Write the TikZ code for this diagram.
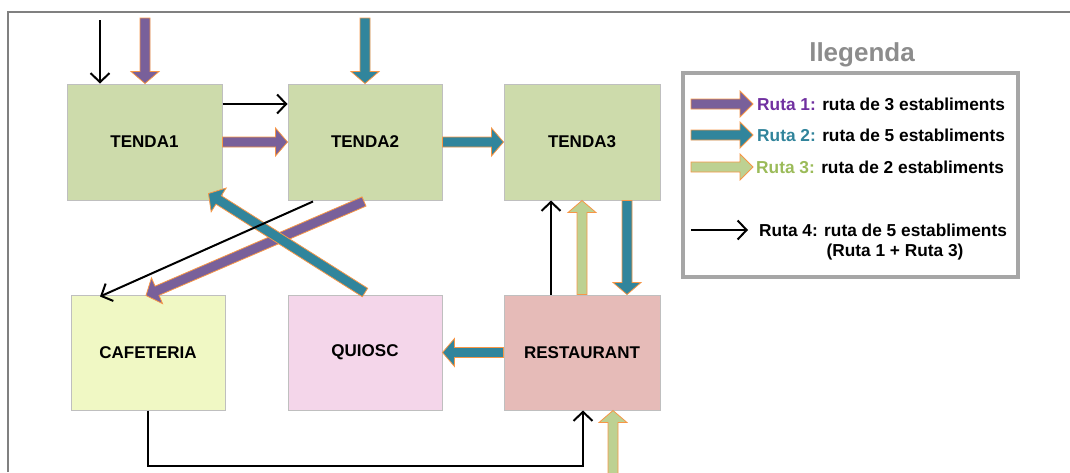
\documentclass[tikz,border=0pt]{standalone}
\usepackage{fontspec}
\setmainfont{Liberation Sans}
\usetikzlibrary{calc,arrows.meta}

\definecolor{shopfill}{HTML}{CDDBAB}
\definecolor{cafefill}{HTML}{F0F8C4}
\definecolor{kioskfill}{HTML}{F4D6EA}
\definecolor{restfill}{HTML}{E6BBB8}
\definecolor{boxline}{HTML}{BFBFBF}
\definecolor{framegray}{HTML}{808080}
\definecolor{leggray}{HTML}{A6A6A6}
\definecolor{titlegray}{HTML}{8C8C8C}
\definecolor{routeone}{HTML}{79609A}
\definecolor{routetwo}{HTML}{31859C}
\definecolor{routethree}{HTML}{BDD192}
\definecolor{arrowedge}{HTML}{F79646}
\definecolor{labelone}{HTML}{7030A0}
\definecolor{labeltwo}{HTML}{31849B}
\definecolor{labelthree}{HTML}{9BBB59}

% block arrow dimensions: half shaft width, half head width, head length
\newcommand{\bashaft}{5pt}
\newcommand{\bawing}{14pt}
\newcommand{\bahead}{12pt}

% block arrow from #2 to #3 (coordinate specs without parentheses), fill #1
\newcommand{\blockarrow}[3]{%
  \coordinate (bas) at (#2);
  \coordinate (bae) at (#3);
  \coordinate (bah) at ($(bae)!\bahead!(bas)$);
  \filldraw[fill=#1, draw=arrowedge, line width=0.8pt, line join=miter]
    ($(bas)!\bashaft!90:(bae)$) -- ($(bah)!\bashaft!90:(bae)$)
    -- ($(bah)!\bawing!90:(bae)$) -- (bae)
    -- ($(bah)!\bawing!-90:(bae)$) -- ($(bah)!\bashaft!-90:(bae)$)
    -- ($(bas)!\bashaft!-90:(bae)$) -- cycle;
}

\tikzset{
  place/.style={draw=boxline, line width=1pt, inner sep=0pt,
    minimum height=116pt, font=\bfseries\fontsize{17}{20}\selectfont},
  thinroute/.style={draw=black, line width=2pt,
    -{Straight Barb[length=9pt,width=19pt,line width=2pt]}},
  legtext/.style={anchor=west, inner sep=0pt,
    font=\bfseries\fontsize{17.3}{20}\selectfont},
}

\begin{document}
\begin{tikzpicture}[x=1pt,y=-1pt]
\useasboundingbox (0,0) rectangle (1070,472);

% outer frame (open to the right and bottom)
\draw[framegray, line width=1.4pt] (8,472) -- (8,12) -- (1070,12);

% establishments
\node[place, fill=shopfill, minimum width=155pt] (t1) at (144.5,142) {TENDA1};
\node[place, fill=shopfill, minimum width=154pt] (t2) at (365,142) {TENDA2};
\node[place, fill=shopfill, minimum width=156pt] (t3) at (582,142) {TENDA3};
\node[place, fill=cafefill, minimum width=154pt, minimum height=115pt] (caf) at (148,352.5) {CAFETERIA};
\node[place, fill=kioskfill, minimum width=154pt, minimum height=115pt] (kio) at (365,352.5) {QUIOSC};
\node[place, fill=restfill, minimum width=156pt, minimum height=115pt] (res) at (582,352.5) {RESTAURANT};

% entry points
\coordinate (in1) at (100,20);
\coordinate (in2) at (145,18);
\coordinate (in3) at (365,18);
\coordinate (in4) at (613,480);

% Ruta 1
\blockarrow{routeone}{in2}{in2 |- t1.north}
\blockarrow{routeone}{t1.east}{t2.west}
\blockarrow{routeone}{$(t2.south)+(-1,1)$}{$(caf.north)+(-2,1)$}

% Ruta 2
\blockarrow{routetwo}{in3}{t2.north}
\blockarrow{routetwo}{t2.east}{t3.west}
\blockarrow{routetwo}{$(t3.south)+(45,0)$}{$(res.north)+(45,0)$}
\blockarrow{routetwo}{res.west}{kio.east}
\blockarrow{routetwo}{$(kio.north)+(0,-2)$}{$(t1.south east)+(-14,-7)$}

% Ruta 3
\blockarrow{routethree}{in4}{in4 |- res.south}
\blockarrow{routethree}{res.north}{t3.south}

% Ruta 4
\draw[thinroute] (in1) -- (in1 |- t1.north);
\draw[thinroute] ($(t1.east)+(0,-38)$) -- ($(t2.west)+(0,-38)$);
\draw[thinroute] ($(t2.south)+(-52,1)$) -- ($(caf.north)+(-48,2)$);
\draw[thinroute] (caf.south) |- ($(res.south)+(1,55)$) -- ($(res.south)+(1,0)$);
\draw[thinroute] ($(res.north)+(-31,0)$) -- ($(t3.south)+(-31,0)$);

% legend
\node[font=\bfseries\fontsize{26}{30}\selectfont, text=titlegray] (legtitle) at (862,55) {llegenda};
\node[draw=leggray, line width=3.5pt, minimum width=335pt, minimum height=204pt,
  inner sep=0pt] (legbox) at (850.5,175) {};

\renewcommand{\bawing}{13pt}
\renewcommand{\bahead}{13pt}
\coordinate (la1) at (691,104);  \coordinate (lb1) at (753,104);
\coordinate (la2) at (691,135);  \coordinate (lb2) at (753,135);
\coordinate (la3) at (691,167);  \coordinate (lb3) at (753,167);
\coordinate (la4) at (691,230);  \coordinate (lb4) at (748,230);
\blockarrow{routeone}{la1}{lb1}
\blockarrow{routetwo}{la2}{lb2}
\blockarrow{routethree}{la3}{lb3}
\draw[thinroute] (la4) -- (lb4);

\node[legtext] (lt1) at (757,104) {\textcolor{labelone}{Ruta 1:} ruta de 3 establiments};
\node[legtext] (lt2) at (757,135) {\textcolor{labeltwo}{Ruta 2:} ruta de 5 establiments};
\node[legtext] (lt3) at (756,167) {\textcolor{labelthree}{Ruta 3:} ruta de 2 establiments};
\node[legtext] (lt4) at (759,230) {Ruta 4: ruta de 5 establiments};
\node[inner sep=0pt, font=\bfseries\fontsize{17.3}{20}\selectfont] (lt5) at (895,252) {(Ruta 1 + Ruta 3)};
\end{tikzpicture}
\end{document}
